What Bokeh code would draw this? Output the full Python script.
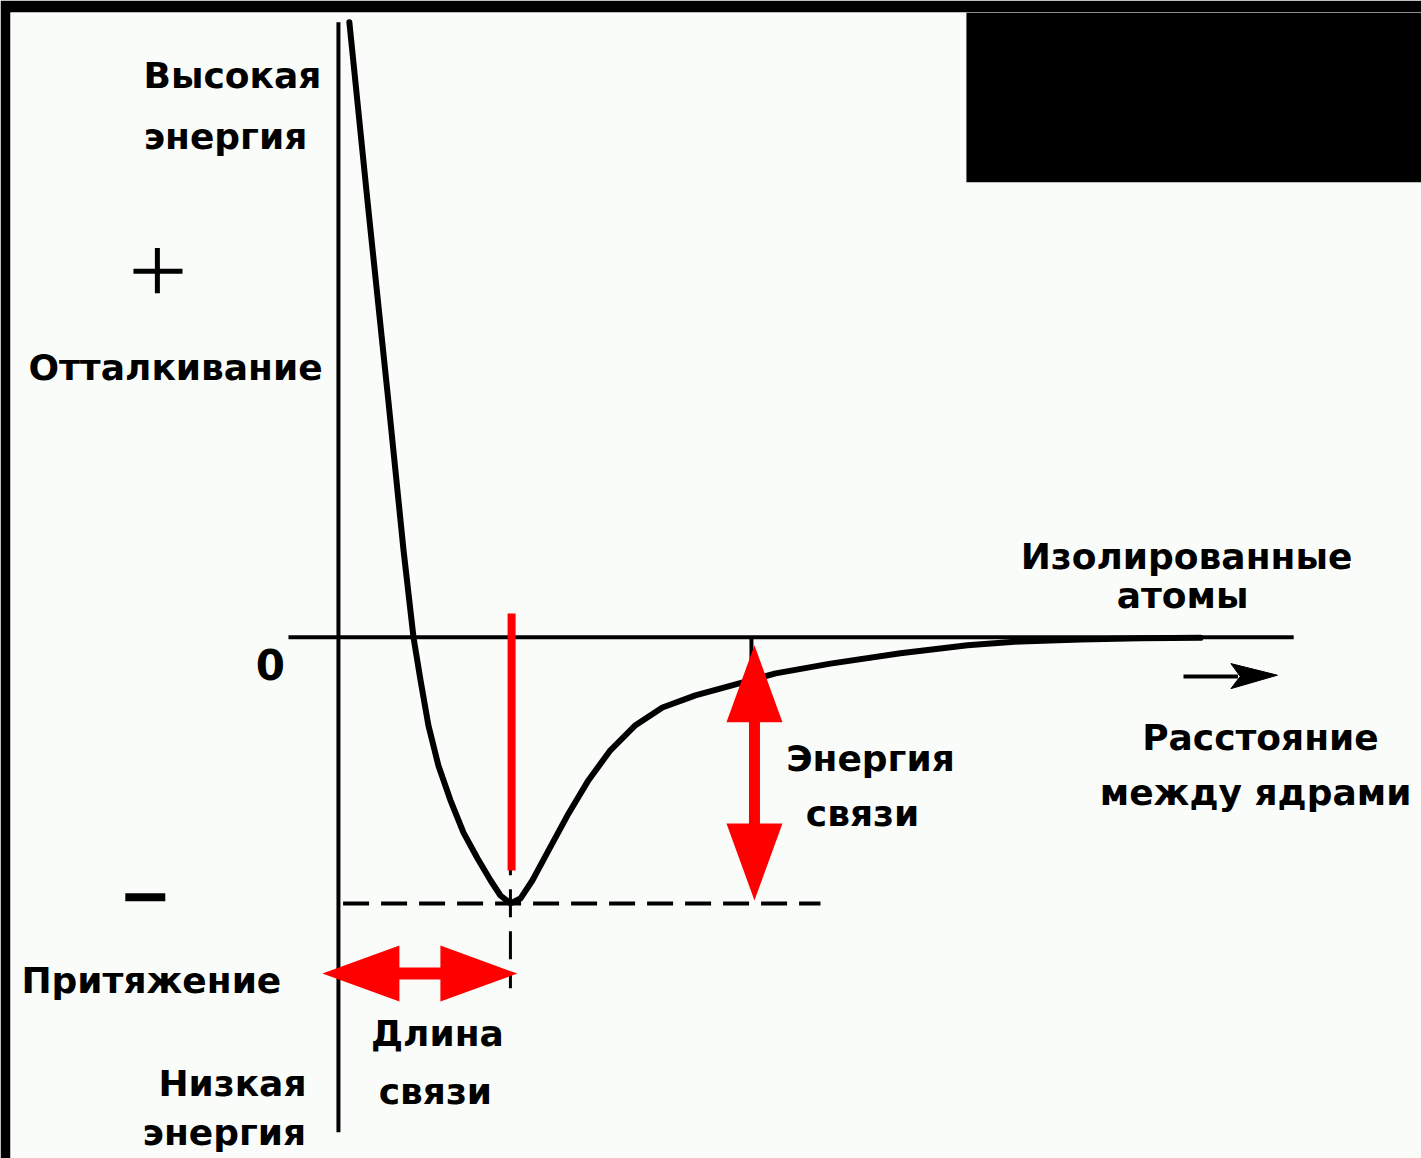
from math import hypot

from bokeh.core.properties import value
from bokeh.embed import file_html
from bokeh.models import BoxAnnotation, ColumnDataSource, Range1d
from bokeh.plotting import figure
from bokeh.resources import INLINE

# Potential energy of two atoms vs. internuclear distance (H2-like): r in Å, E in kJ/mol
r_curve = [0.047, 0.125, 0.215, 0.280, 0.323, 0.353, 0.387, 0.430, 0.482, 0.538,
           0.598, 0.654, 0.697, 0.740, 0.783, 0.835, 0.904, 0.985, 1.076, 1.170,
           1.278, 1.394, 1.536, 1.709, 1.881, 2.117, 2.418, 2.707, 2.935, 3.193,
           3.451, 3.709]
e_curve = [1008, 715, 387, 143, 0, -70, -144, -210, -267, -320,
           -362, -398, -423, -436, -428, -398, -349, -292, -234, -185,
           -144, -115, -95, -77, -59, -43, -26, -13, -6.6, -3.3,
           -1.6, -0.8]

bond_length = 0.74      # Å, position of the minimum
bond_energy = 436       # kJ/mol, depth of the well
r_marker = 1.79         # where the bond-energy arrow is drawn
e_top, e_bottom = 1008, -811   # extent of the energy axis
r_zero_end = 4.11       # end of the E = 0 line

X_START, X_END = -1.411, 4.660
Y_START, Y_END = -854.0, 1024.0
W, H = 1421, 1158
BORDER_L, BORDER_T = 10, 12
SX = (W - BORDER_L) / (X_END - X_START)   # px per Å
SY = (H - BORDER_T) / (Y_END - Y_START)   # px per kJ/mol

FONT = value("DejaVu Sans")
INK = "#000000"
RED = "#ff0000"

p = figure(width=W, height=H, x_range=Range1d(X_START, X_END), y_range=Range1d(Y_START, Y_END),
           x_axis_type=None, y_axis_type=None, toolbar_location=None, output_backend="svg",
           background_fill_color="#fafcfa", border_fill_color="black", outline_line_color=None)
p.min_border_left = BORDER_L
p.min_border_top = BORDER_T
p.min_border_right = 0
p.min_border_bottom = 0

# dark block in the upper right corner
p.add_layout(BoxAnnotation(left=2.702, bottom=746, fill_color="black", fill_alpha=1.0,
                           line_color=None, level="overlay"))


def double_arrow(x0, y0, x1, y1, head_len=77, head_w=56, shaft_w=11):
    """Polygon of a two-headed arrow between two data points (head sizes in px)."""
    X0, Y0, X1, Y1 = x0 * SX, y0 * SY, x1 * SX, y1 * SY
    L = hypot(X1 - X0, Y1 - Y0)
    ux, uy = (X1 - X0) / L, (Y1 - Y0) / L
    nx, ny = -uy, ux
    b0 = (X0 + ux * head_len, Y0 + uy * head_len)
    b1 = (X1 - ux * head_len, Y1 - uy * head_len)
    hw, sw = head_w / 2, shaft_w / 2
    pts = [(X0, Y0),
           (b0[0] + nx * hw, b0[1] + ny * hw), (b0[0] + nx * sw, b0[1] + ny * sw),
           (b1[0] + nx * sw, b1[1] + ny * sw), (b1[0] + nx * hw, b1[1] + ny * hw),
           (X1, Y1),
           (b1[0] - nx * hw, b1[1] - ny * hw), (b1[0] - nx * sw, b1[1] - ny * sw),
           (b0[0] - nx * sw, b0[1] - ny * sw), (b0[0] - nx * hw, b0[1] - ny * hw)]
    return [q[0] / SX for q in pts], [q[1] / SY for q in pts]


# energy axis and the zero level
p.line([0, 0], [e_top, e_bottom], line_color=INK, line_width=4)
p.line([-0.215, r_zero_end], [0, 0], line_color=INK, line_width=4)

# bond-length / bond-energy guides
p.line([0.02, 2.074], [-bond_energy, -bond_energy], line_color=INK, line_width=4, line_dash="26 12")
p.line([bond_length, bond_length], [0, -575], line_color=INK, line_width=3, line_dash="28 14")
p.line([r_marker - 0.013, r_marker - 0.013], [0, -72], line_color=INK, line_width=4)

# the potential curve
p.line(r_curve, e_curve, line_color=INK, line_width=6, line_join="round", line_cap="round")

# red highlights
p.line([bond_length + 0.005, bond_length + 0.005], [39, -382], line_color=RED, line_width=8)
ax, ay = double_arrow(r_marker, -13, r_marker, -431)
p.patch(ax, ay, fill_color=RED, line_color=None)
bx, by = double_arrow(-0.069, -551, 0.77, -551, shaft_w=12)
p.patch(bx, by, fill_color=RED, line_color=None)

# direction arrow under "Изолированные атомы"
p.line([3.636, 3.87], [-64, -64], line_color=INK, line_width=4)
p.patch([3.84, 4.040, 3.84, 3.88], [-43, -62, -84, -64], fill_color=INK, line_color=INK, line_width=1)

# sign marks on the energy scale
p.line([-0.882, -0.671], [600, 600], line_color=INK, line_width=5)
p.line([-0.779, -0.779], [638, 564], line_color=INK, line_width=5)
p.line([-0.917, -0.745], [-426, -426], line_color=INK, line_width=8)

labels = ColumnDataSource(dict(
    x=[-0.456, -0.486, -0.701, -0.805, -0.456, -0.491, 0.426, 0.417,
       2.289, 2.255, 3.649, 3.632, 3.967, 3.946],
    y=[921, 820, 443, -562, -731, -811, -649, -745,
       -198, -289, 133, 69, -164, -254],
    text=["Высокая", "энергия", "Отталкивание", "Притяжение", "Низкая", "энергия",
          "Длина", "связи", "Энергия", "связи", "Изолированные", "атомы",
          "Расстояние", "между ядрами"],
))
p.text("x", "y", "text", source=labels, text_font=FONT, text_font_style="bold",
       text_font_size="36px", text_align="center", text_baseline="alphabetic", text_color=INK)
p.text([-0.293], [-44], ["0"], text_font=FONT, text_font_style="bold", text_font_size="42px",
       text_align="center", text_baseline="alphabetic", text_color=INK)

open("out.html", "w").write(file_html(p, INLINE))
